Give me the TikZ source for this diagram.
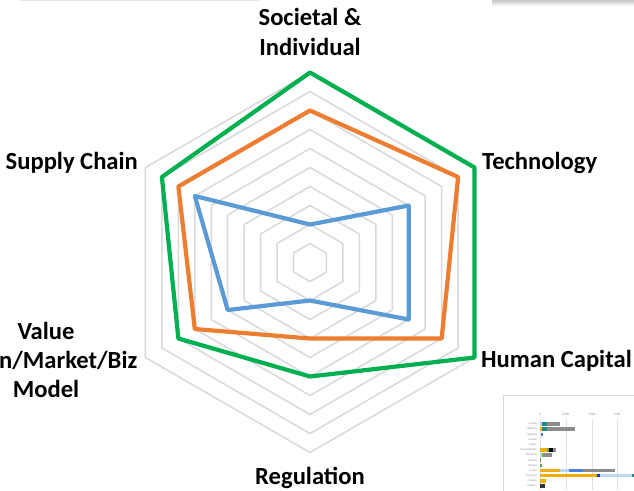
\documentclass[tikz,border=0pt]{standalone}
\usepackage{fontspec}
\setmainfont{Carlito}
\definecolor{gridgray}{HTML}{D9D9D9}
\definecolor{sblue}{HTML}{5B9BD5}
\definecolor{sorange}{HTML}{ED7D31}
\definecolor{sgreen}{HTML}{00B050}
\definecolor{tyellow}{HTML}{EDB000}
\definecolor{tteal}{HTML}{1F8A8A}
\definecolor{tlblue}{HTML}{BDD7EE}
\definecolor{tblue}{HTML}{4A7FE0}
\definecolor{tdblue}{HTML}{1F3E9A}
\definecolor{tgreen}{HTML}{70AD47}
\definecolor{tgray}{HTML}{8C8C8C}
\begin{document}
\begin{tikzpicture}[x=1pt,y=-1pt,
  gridline/.style={draw=gridgray,line width=1.5pt},
  series/.style={line width=4.2pt,line join=round},
  axlabel/.style={font=\fontsize{24.6}{29.3}\selectfont\bfseries,inner sep=0pt,align=center,text=black},
  thumbtext/.style={font=\fontsize{2.8}{3}\selectfont,text=gray!90,inner sep=0pt}]
\useasboundingbox (0,0) rectangle (634,490);
\clip (0,0) rectangle (634,490);
\fill[white] (0,0) rectangle (634,490);
% faint shadows at the top edge
\fill[gray!20] (20,0) rectangle (259,1.2);
\shade[top color=gray!45,bottom color=white] (492,0) rectangle (634,6);
% radar chart (y axis points down: -90 is the top)
\begin{scope}[shift={(310,262.5)}]
  \foreach \k in {1,...,10}
    \draw[gridline] (-90:{19*\k}) -- (-30:{19*\k}) -- (30:{19*\k}) -- (90:{19*\k}) -- (150:{19*\k}) -- (210:{19*\k}) -- cycle;
  \draw[series,sblue] (-90:{19*2}) -- (-30:{19*6}) -- (30:{19*6}) -- (90:{19*2}) -- (150:{19*5}) -- (210:{19*7}) -- cycle;
  \draw[series,sorange] (-90:{19*8}) -- (-30:{19*9}) -- (30:{19*8}) -- (90:{19*4}) -- (150:{19*7}) -- (210:{19*8}) -- cycle;
  \draw[series,sgreen] (-90:{19*10}) -- (-30:{19*10}) -- (30:{19*10}) -- (90:{19*6}) -- (150:{19*8}) -- (210:{19*9}) -- cycle;
\end{scope}
% axis labels
\node[axlabel] (soc) at (310,32) {Societal \&\\Individual};
\node[axlabel,anchor=west] (tech) at (482,163) {Technology};
\node[axlabel,anchor=west] (hum) at (481,361) {Human Capital};
\node[axlabel] (reg) at (310,478) {Regulation};
\node[axlabel,anchor=east] (sup) at (138,163) {Supply Chain};
\node[axlabel] (val) at (46,360) {Value\\Chain/Market/Biz\\Model};
% thumbnail chart at the bottom right
\draw[gray!30,line width=0.6pt,fill=white] (503,395) rectangle (640,495);
\foreach \x/\t in {540/0,566/2500,592/5000,617/7500} {
  \draw[gray!25,line width=0.5pt] (\x,419) -- (\x,490);
  \node[thumbtext,font=\fontsize{3.4}{4}\selectfont] (tick\t) at (\x,414) {\t};
}
\foreach \n/\c [count=\i from 0] in {Austria/a,Belgium/b,Bulgaria/c,Croatia/d,Cyprus/e,Czech Republic/f,Denmark/g,Estonia/h,Finland/i,France/j,Germany/k,Greece/l,Hungary/m}
  \node[thumbtext,anchor=east] (cty\c) at (537,{424+5.17*\i}) {\n};
\newcommand{\tbar}[4]{\fill[#4] (#2,{424+5.17*#1-1.7}) rectangle (#3,{424+5.17*#1+1.7});}
\tbar{0}{540}{542}{tlblue}\tbar{0}{542}{547}{tteal}\tbar{0}{547}{560}{tgray}
\tbar{1}{540}{541.5}{tyellow}\tbar{1}{541.5}{547}{tteal}\tbar{1}{547}{575}{tgray}
\tbar{2}{541}{543}{tblue}
\tbar{5}{540}{547}{tyellow}\tbar{5}{547}{549}{tgreen}\tbar{5}{549}{553}{black}\tbar{5}{553}{556}{tgray}
\tbar{6}{540}{542}{tlblue}\tbar{6}{542}{544}{tgreen}\tbar{6}{544}{552}{tgray}
\tbar{7}{540}{541}{tgreen}
\tbar{8}{540}{542}{gray!70!green}
\tbar{9}{540}{560}{tyellow}\tbar{9}{560}{569}{tlblue}\tbar{9}{569}{583}{tblue}\tbar{9}{583}{615}{tgray}
\tbar{10}{540}{597}{tyellow}\tbar{10}{597}{600}{tdblue}\tbar{10}{600}{632}{tlblue}\tbar{10}{632}{634}{tteal}
\tbar{11}{540}{546}{tyellow}
\tbar{12}{540}{545}{gray!40!black}
\end{tikzpicture}
\end{document}
